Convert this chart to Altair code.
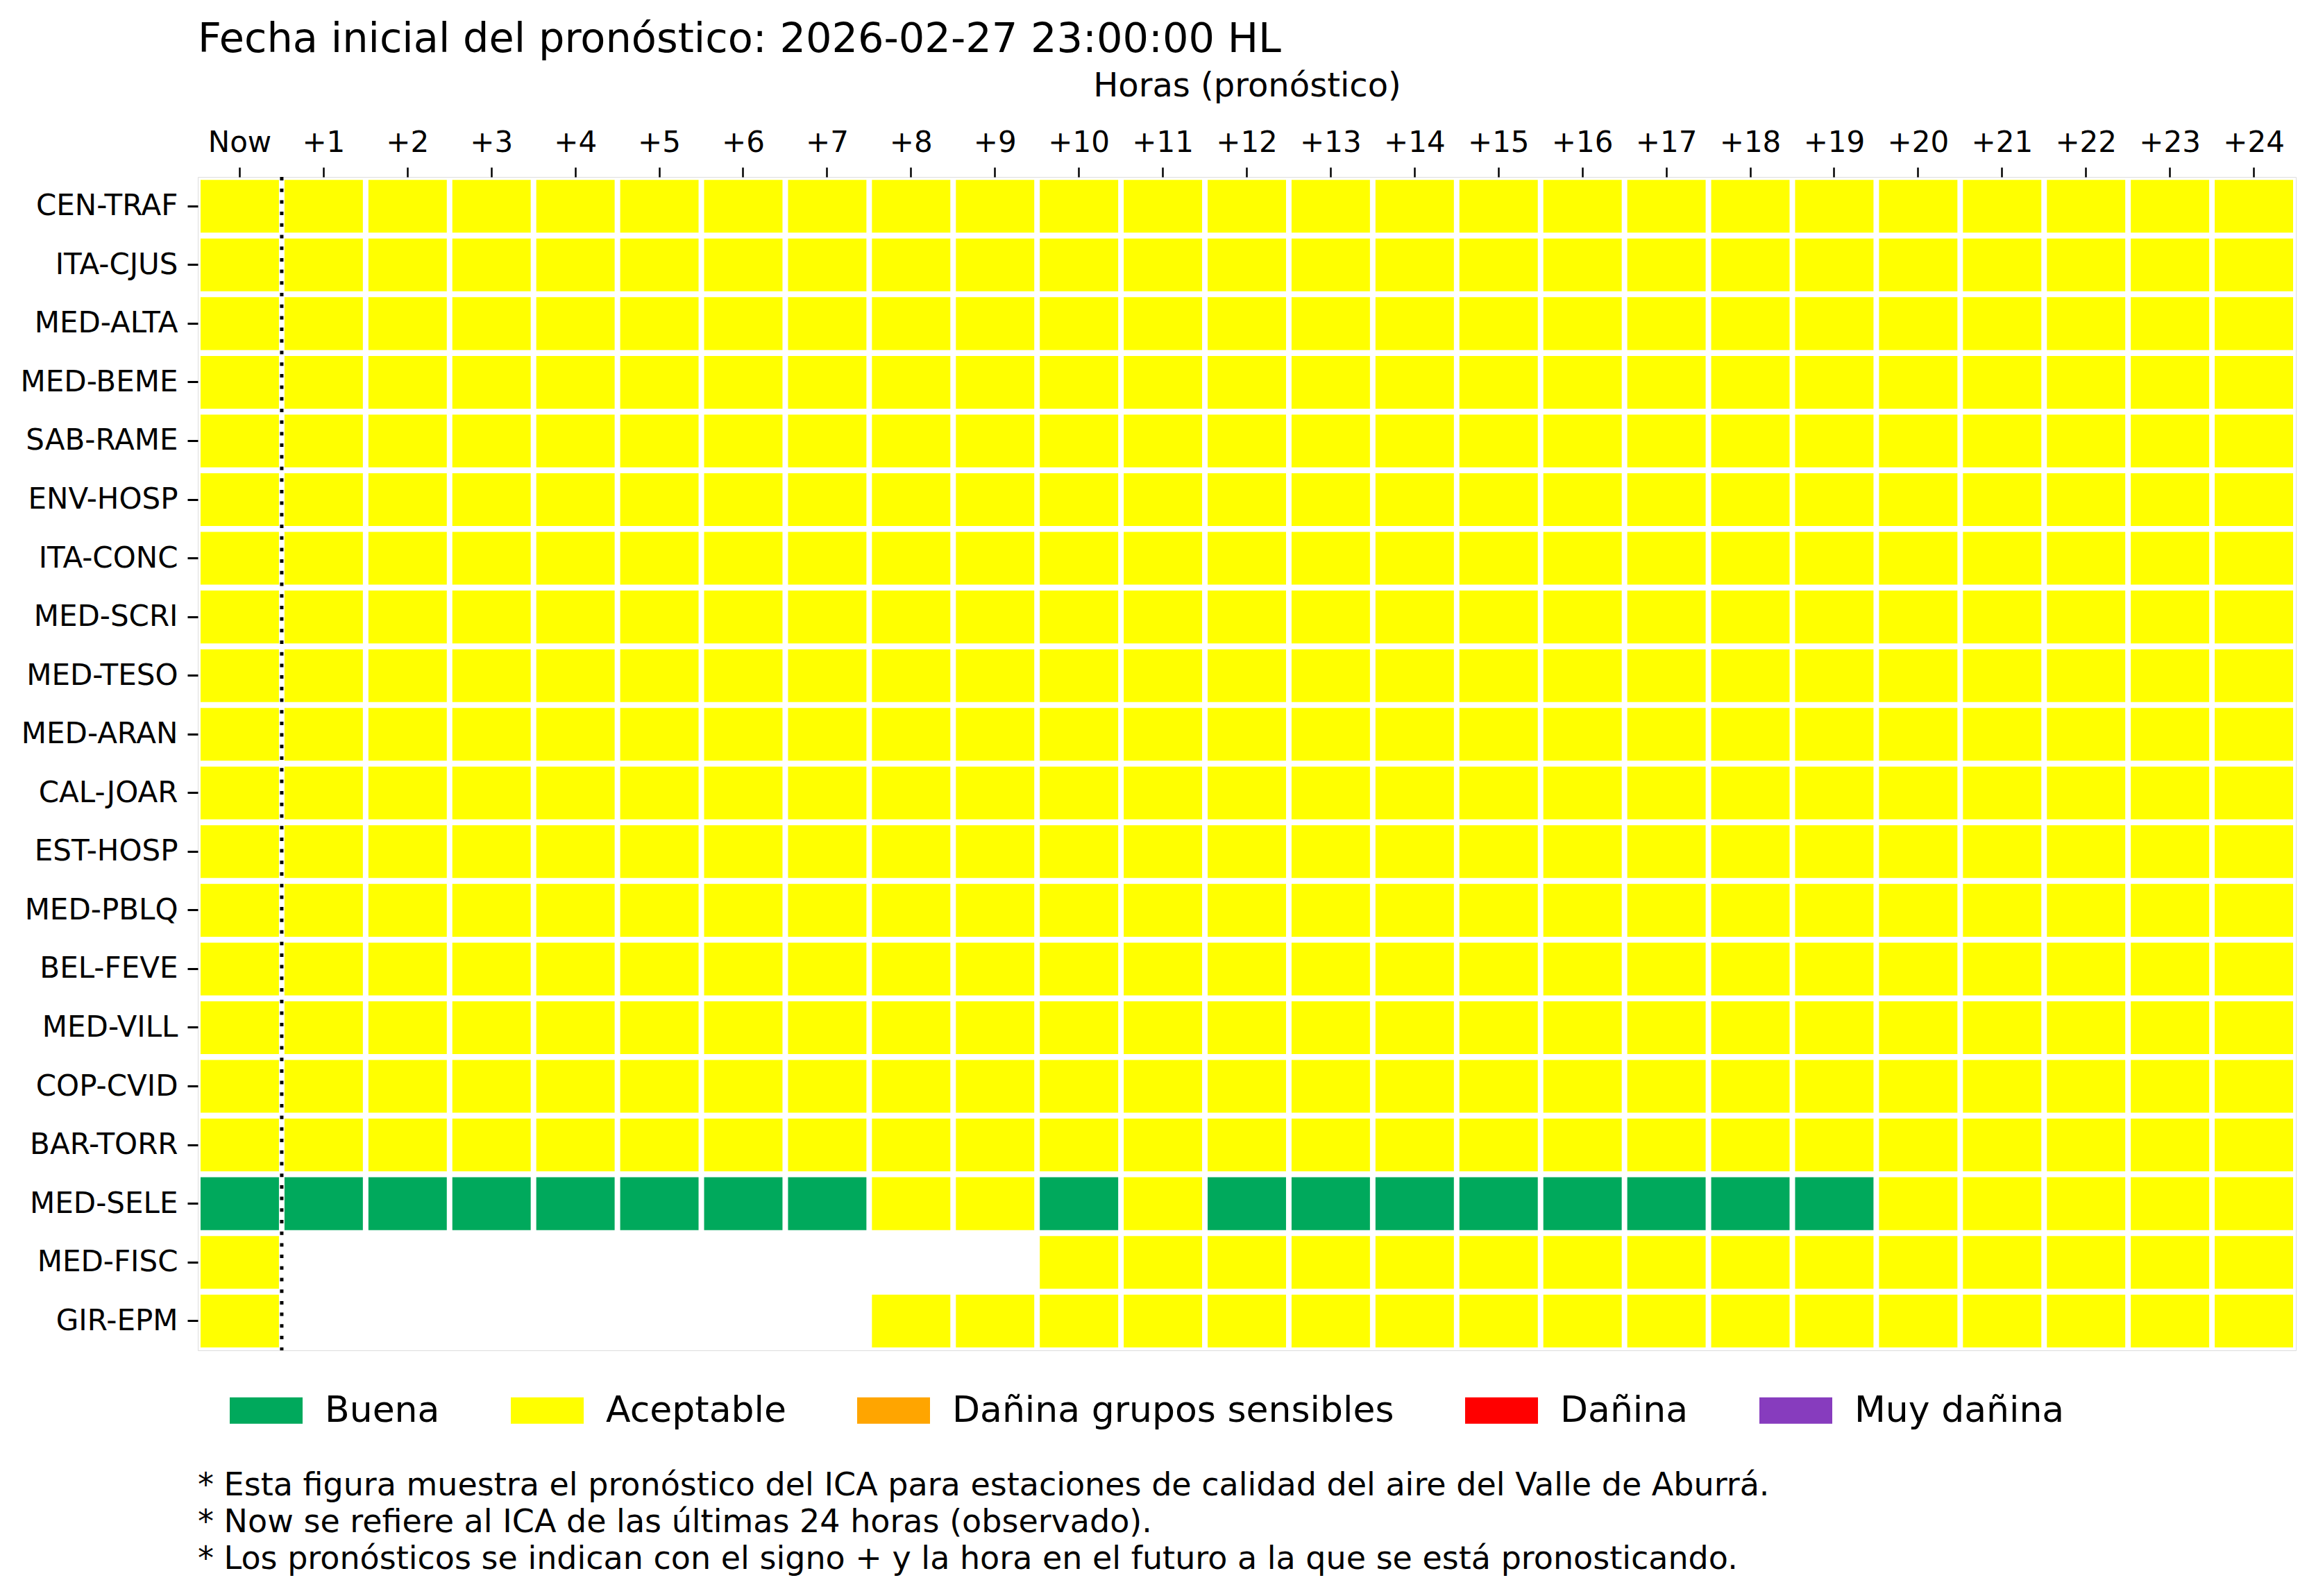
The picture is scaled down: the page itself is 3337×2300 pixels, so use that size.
import altair as alt
import pandas as pd

title_text = "Fecha inicial del pronóstico: 2026-02-27 23:00:00 HL"
x_title = "Horas (pronóstico)"

hours = ["Now"] + [f"+{h}" for h in range(1, 25)]

stations = [
    "CEN-TRAF", "ITA-CJUS", "MED-ALTA", "MED-BEME", "SAB-RAME",
    "ENV-HOSP", "ITA-CONC", "MED-SCRI", "MED-TESO", "MED-ARAN",
    "CAL-JOAR", "EST-HOSP", "MED-PBLQ", "BEL-FEVE", "MED-VILL",
    "COP-CVID", "BAR-TORR", "MED-SELE", "MED-FISC", "GIR-EPM",
]

# one string per station, one character per hour (Now, +1 ... +24)
# B = Buena, A = Aceptable, - = sin dato
ica_rows = [
    "AAAAAAAAAAAAAAAAAAAAAAAAA",  # CEN-TRAF
    "AAAAAAAAAAAAAAAAAAAAAAAAA",  # ITA-CJUS
    "AAAAAAAAAAAAAAAAAAAAAAAAA",  # MED-ALTA
    "AAAAAAAAAAAAAAAAAAAAAAAAA",  # MED-BEME
    "AAAAAAAAAAAAAAAAAAAAAAAAA",  # SAB-RAME
    "AAAAAAAAAAAAAAAAAAAAAAAAA",  # ENV-HOSP
    "AAAAAAAAAAAAAAAAAAAAAAAAA",  # ITA-CONC
    "AAAAAAAAAAAAAAAAAAAAAAAAA",  # MED-SCRI
    "AAAAAAAAAAAAAAAAAAAAAAAAA",  # MED-TESO
    "AAAAAAAAAAAAAAAAAAAAAAAAA",  # MED-ARAN
    "AAAAAAAAAAAAAAAAAAAAAAAAA",  # CAL-JOAR
    "AAAAAAAAAAAAAAAAAAAAAAAAA",  # EST-HOSP
    "AAAAAAAAAAAAAAAAAAAAAAAAA",  # MED-PBLQ
    "AAAAAAAAAAAAAAAAAAAAAAAAA",  # BEL-FEVE
    "AAAAAAAAAAAAAAAAAAAAAAAAA",  # MED-VILL
    "AAAAAAAAAAAAAAAAAAAAAAAAA",  # COP-CVID
    "AAAAAAAAAAAAAAAAAAAAAAAAA",  # BAR-TORR
    "BBBBBBBBAABABBBBBBBBAAAAA",  # MED-SELE
    "A---------AAAAAAAAAAAAAAA",  # MED-FISC
    "A-------AAAAAAAAAAAAAAAAA",  # GIR-EPM
]

categories = ["Buena", "Aceptable", "Dañina grupos sensibles", "Dañina", "Muy dañina"]
cat_colors = ["#00A95C", "#FFFF00", "#FFA500", "#FF0000", "#873CBE"]
code_to_cat = {"B": "Buena", "A": "Aceptable"}

footnotes = [
    "* Esta figura muestra el pronóstico del ICA para estaciones de calidad del aire del Valle de Aburrá.",
    "* Now se refiere al ICA de las últimas 24 horas (observado).",
    "* Los pronósticos se indican con el signo + y la hora en el futuro a la que se está pronosticando.",
]

records = []
for station, row in zip(stations, ica_rows):
    for hour, code in zip(hours, row):
        if code in code_to_cat:
            records.append({"station": station, "hour": hour, "ica": code_to_cat[code]})
df = pd.DataFrame(records)

FONT = "DejaVu Sans"
W, H = 3023, 1691

xscale = alt.Scale(domain=hours, paddingInner=0.066, paddingOuter=0.033)
yscale = alt.Scale(domain=stations, paddingInner=0.1, paddingOuter=0.05)

cells = alt.Chart(df).mark_rect().encode(
    x=alt.X("hour:O", scale=xscale, title=x_title,
            axis=alt.Axis(orient="top", labelAngle=0, domain=False,
                          tickSize=14, tickWidth=2.5, tickColor="black",
                          labelFontSize=42, labelFont=FONT, labelColor="black",
                          labelPadding=14, titleFontSize=48, titleFont=FONT,
                          titleFontWeight="normal", titleColor="black",
                          titlePadding=36)),
    y=alt.Y("station:O", scale=yscale, title=None,
            axis=alt.Axis(domain=False, tickSize=15, tickWidth=3, tickColor="black",
                          labelFontSize=42, labelFont=FONT, labelColor="black",
                          labelPadding=14, labelLimit=600)),
    color=alt.Color("ica:N", scale=alt.Scale(domain=categories, range=cat_colors),
                    legend=alt.Legend(orient="none", direction="horizontal",
                                      legendX=46, legendY=1725, title=None,
                                      symbolType="M-1,-0.362L1,-0.362L1,0.362L-1,0.362Z",
                                      symbolSize=11025, symbolStrokeWidth=0,
                                      symbolOpacity=1,
                                      labelFontSize=52, labelFont=FONT, labelColor="black",
                                      labelOffset=32, columnPadding=102, labelLimit=1200,
                                      padding=0)),
)

now_df = pd.DataFrame({"hour": [hours[0]]})
divider = alt.Chart(now_df).mark_rule(
    color="black", strokeWidth=5, strokeDash=[5, 11.7], strokeCap="butt", xOffset=4
).encode(x=alt.X("hour:O", bandPosition=1))

notes_df = pd.DataFrame({"text": ["\n".join(footnotes)]})
notes = alt.Chart(notes_df).mark_text(
    align="left", baseline="alphabetic", lineBreak="\n", lineHeight=53,
    fontSize=46, font=FONT, color="black"
).encode(text="text:N", x=alt.value(0), y=alt.value(1900))

chart = alt.layer(cells, divider, notes).properties(
    width=W, height=H,
    title=alt.TitleParams(text=title_text, anchor="start", fontSize=59, font=FONT,
                          fontWeight="normal", color="black", offset=20, dy=54,
                          baseline="alphabetic", frame="group"),
    autosize=alt.AutoSizeParams(type="none"),
    padding={"left": 277, "top": 247, "right": 21, "bottom": 338},
).configure_view(stroke="black", strokeWidth=3).configure(background="white")

chart.save("out.html", embed_options={"renderer": "svg", "actions": False})
